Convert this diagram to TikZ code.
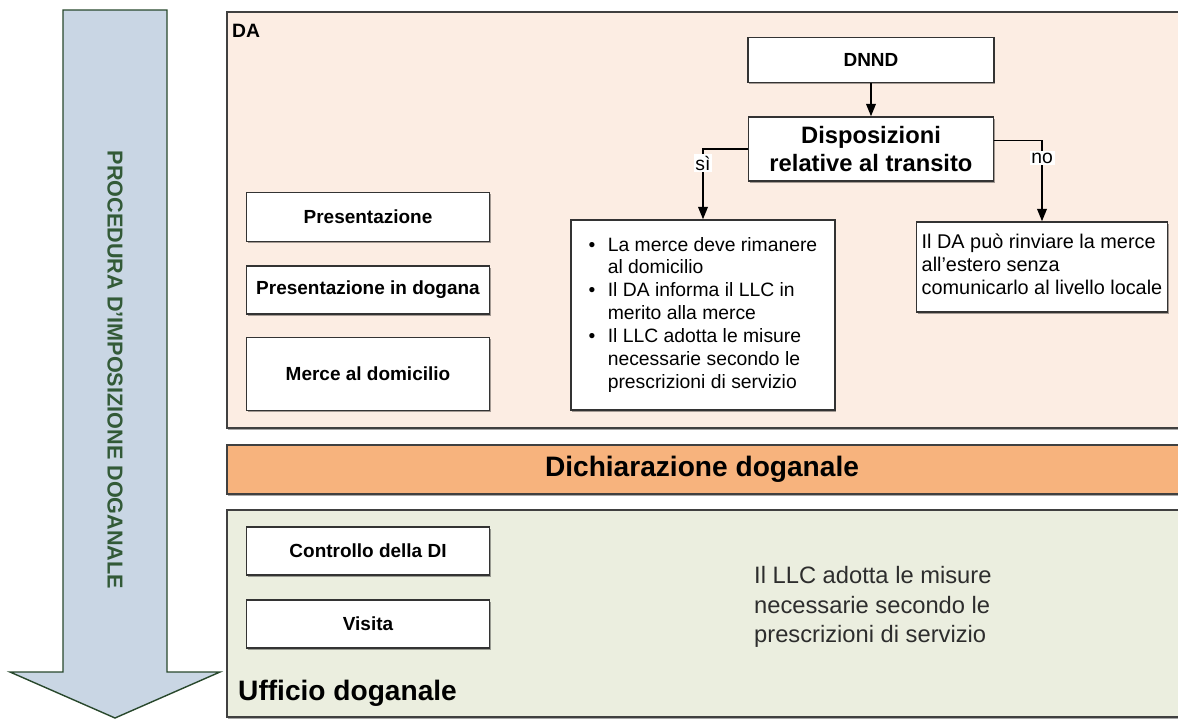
\documentclass[tikz,border=0pt]{standalone}
\usepackage{fontspec}
\setmainfont{Liberation Sans}
\usetikzlibrary{arrows.meta,shadows}
\definecolor{peach}{RGB}{252,237,227}
\definecolor{bandorange}{RGB}{247,179,125}
\definecolor{officegreen}{RGB}{235,238,223}
\definecolor{arrowblue}{RGB}{201,214,228}
\definecolor{arrowgreen}{RGB}{50,90,55}
\definecolor{textgray}{RGB}{45,45,45}
\tikzset{
  softshadow/.style={drop shadow={shadow xshift=0.7pt, shadow yshift=-0.9pt, opacity=0.35, fill=black}},
  stepbox/.style={draw=black!80, fill=white, line width=0.9pt, inner sep=0pt, align=center,
    font=\bfseries\fontsize{10.8}{12}\selectfont, softshadow},
  listbox/.style={draw=black!80, fill=white, line width=0.9pt, inner sep=0pt, align=left,
    font=\fontsize{11}{13}\selectfont, softshadow},
  region/.style={draw=black!75, line width=0.9pt, softshadow},
  arr/.style={-{Triangle[length=7pt,width=5.5pt]}, line width=0.8pt},
  branch/.style={fill=white, inner sep=1pt, font=\fontsize{11}{12}\selectfont},
}
\begin{document}
\begin{tikzpicture}[x=0.02cm, y=-0.02cm]
    \useasboundingbox (0,0) rectangle (1178,720);
    \draw[arrowgreen!80!black, fill=arrowblue, line width=0.8pt] (63,10) -- (167,10) -- (167,672) -- (220,672) -- (115,718) -- (10,672) -- (63,672) -- cycle;
    \node[rotate=-90, text=arrowgreen, font=\bfseries\fontsize{12.3}{14}\selectfont] (proc) at (115,370) {PROCEDURA D'IMPOSIZIONE DOGANALE};
    \draw[region, fill=peach] (227,12) rectangle (1190,428);
    \draw[region, fill=bandorange] (227,445) rectangle (1190,494);
    \draw[region, fill=officegreen] (227,510) rectangle (1190,717);
    \node[anchor=north west, font=\bfseries\fontsize{11}{12}\selectfont] (da) at (226,18) {DA};
    \node[font=\bfseries\fontsize{16}{18}\selectfont] (decl) at (702,469) {Dichiarazione doganale};
    \node[anchor=base west, font=\bfseries\fontsize{16}{18}\selectfont] (office) at (232,700) {Ufficio doganale};
    \node[stepbox, minimum width=4.86cm, minimum height=0.98cm] (pres) at (368,217) {Presentazione};
    \node[stepbox, minimum width=4.86cm, minimum height=0.96cm] (presdog) at (368,290) {Presentazione in dogana};
    \node[stepbox, minimum width=4.86cm, minimum height=1.46cm] (domicile) at (368,374) {Merce al domicilio};
    \node[stepbox, minimum width=4.86cm, minimum height=0.96cm] (control) at (368,551) {Controllo della DI};
    \node[stepbox, minimum width=4.86cm, minimum height=0.96cm] (visit) at (368,624) {Visita};
    \node[stepbox, minimum width=4.92cm, minimum height=0.9cm] (dnnd) at (871,60) {DNND};
    \node[stepbox, minimum width=4.9cm, minimum height=1.28cm, font=\bfseries\fontsize{13.5}{16}\selectfont] (disp) at (871,149) {Disposizioni\\relative al transito};
    \node[listbox, minimum width=5.28cm, minimum height=3.8cm] (bullets) at (703,315) {%
      \begin{tabular}{@{}l@{\hspace{7pt}}l@{}}
        \textbullet & La merce deve rimanere\\
                    & al domicilio\\
        \textbullet & Il DA informa il LLC in\\
                    & merito alla merce\\
        \textbullet & Il LLC adotta le misure\\
                    & necessarie secondo le\\
                    & prescrizioni di servizio
      \end{tabular}};
    \node[listbox, minimum width=5.02cm, minimum height=1.8cm, font=\fontsize{11.3}{13}\selectfont] (abroad) at (1042,267) {%
      \begin{tabular}{@{}l@{}}
        Il DA può rinviare la merce\\
        all’estero senza\\
        comunicarlo al livello locale
      \end{tabular}};
    \node[anchor=west, align=left, text=textgray, font=\fontsize{13.5}{16.7}\selectfont] (measures) at (748,607) {Il LLC adotta le misure\\necessarie secondo le\\prescrizioni di servizio};
    \draw[arr] (dnnd) -- (disp);
    \draw[arr] (disp.west) -| node[branch, pos=0.6] {sì} (bullets.north);
    \draw[arr] ([yshift=5pt]disp.east) -| node[branch, pos=0.61] {no} (abroad.north);
\end{tikzpicture}
\end{document}
